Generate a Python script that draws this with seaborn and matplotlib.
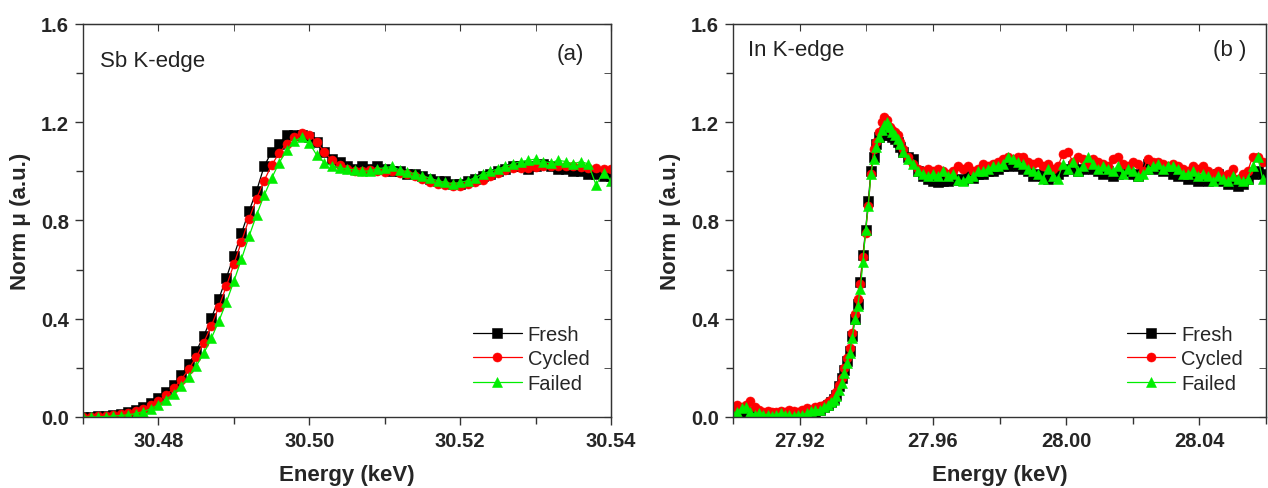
import numpy as np
import matplotlib
matplotlib.use("Agg")
import matplotlib.pyplot as plt
import seaborn as sns
from matplotlib.ticker import MultipleLocator

# ---- Sb K-edge (panel a) ----
sb_energy = [30.470, 30.471, 30.472, 30.473, 30.474, 30.475, 30.476, 30.477, 30.478, 30.479,
             30.480, 30.481, 30.482, 30.483, 30.484, 30.485, 30.486, 30.487, 30.488, 30.489,
             30.490, 30.491, 30.492, 30.493, 30.494, 30.495, 30.496, 30.497, 30.498, 30.499,
             30.500, 30.501, 30.502, 30.503, 30.504, 30.505, 30.506, 30.507, 30.508, 30.509,
             30.510, 30.511, 30.512, 30.513, 30.514, 30.515, 30.516, 30.517, 30.518, 30.519,
             30.520, 30.521, 30.522, 30.523, 30.524, 30.525, 30.526, 30.527, 30.528, 30.529,
             30.530, 30.531, 30.532, 30.533, 30.534, 30.535, 30.536, 30.537, 30.538, 30.539,
             30.540]
sb_fresh = [0.000, 0.002, 0.004, 0.006, 0.009, 0.013, 0.019, 0.028, 0.040, 0.056,
            0.076, 0.101, 0.132, 0.170, 0.215, 0.268, 0.330, 0.402, 0.481, 0.567,
            0.657, 0.748, 0.838, 0.920, 1.020, 1.080, 1.110, 1.150, 1.150, 1.150,
            1.140, 1.120, 1.080, 1.050, 1.040, 1.020, 1.010, 1.020, 1.010, 1.020,
            1.010, 1.000, 1.000, 0.990, 0.990, 0.980, 0.970, 0.960, 0.960, 0.950,
            0.950, 0.960, 0.970, 0.980, 0.990, 1.000, 1.010, 1.020, 1.020, 1.010,
            1.020, 1.030, 1.020, 1.010, 1.010, 1.000, 1.000, 0.990, 0.990, 0.980,
            0.980]
sb_cycled = [0.000, 0.001, 0.003, 0.005, 0.008, 0.011, 0.016, 0.024, 0.034, 0.048,
             0.066, 0.089, 0.117, 0.152, 0.194, 0.244, 0.303, 0.371, 0.448, 0.533,
             0.622, 0.714, 0.806, 0.889, 0.962, 1.025, 1.075, 1.112, 1.140, 1.158,
             1.150, 1.118, 1.078, 1.045, 1.025, 1.010, 1.003, 1.000, 1.005, 1.002,
             0.998, 1.000, 0.995, 0.990, 0.982, 0.970, 0.958, 0.950, 0.944, 0.940,
             0.942, 0.948, 0.955, 0.965, 0.980, 0.995, 1.005, 1.012, 1.015, 1.015,
             1.018, 1.020, 1.022, 1.020, 1.022, 1.020, 1.018, 1.015, 1.012, 1.010,
             1.008]
sb_failed = [0.000, 0.000, 0.001, 0.002, 0.004, 0.006, 0.009, 0.014, 0.022, 0.034,
             0.050, 0.070, 0.095, 0.126, 0.163, 0.207, 0.259, 0.320, 0.390, 0.468,
             0.553, 0.643, 0.735, 0.822, 0.902, 0.972, 1.035, 1.085, 1.122, 1.140,
             1.115, 1.065, 1.035, 1.022, 1.015, 1.010, 1.005, 1.000, 1.002, 1.010,
             1.015, 1.020, 1.005, 0.998, 0.990, 0.982, 0.972, 0.962, 0.955, 0.950,
             0.955, 0.962, 0.975, 0.990, 1.000, 1.010, 1.020, 1.030, 1.040, 1.045,
             1.050, 1.040, 1.035, 1.045, 1.040, 1.030, 1.040, 1.030, 0.945, 0.995,
             0.960]

# ---- In K-edge (panel b) ----
in_energy = [27.9000, 27.9013, 27.9026, 27.9039, 27.9052, 27.9065, 27.9078, 27.9091, 27.9104, 27.9117,
             27.9130, 27.9143, 27.9156, 27.9169, 27.9182, 27.9195, 27.9208, 27.9221, 27.9234, 27.9247,
             27.9260, 27.9273, 27.9286,
             27.9294, 27.9302, 27.9310, 27.9318, 27.9326, 27.9334, 27.9342, 27.9350, 27.9358, 27.9366,
             27.9374, 27.9382, 27.9390, 27.9398, 27.9406, 27.9414, 27.9422, 27.9430, 27.9438, 27.9446,
             27.9454, 27.9462, 27.9470, 27.9478, 27.9486, 27.9494, 27.9502, 27.9510,
             27.9525, 27.9540, 27.9555, 27.9570, 27.9585, 27.9600, 27.9615, 27.9630, 27.9645, 27.9660,
             27.9675, 27.9690, 27.9705, 27.9720, 27.9735, 27.9750, 27.9765, 27.9780, 27.9795, 27.9810,
             27.9825, 27.9840, 27.9855, 27.9870, 27.9885, 27.9900, 27.9915, 27.9930, 27.9945, 27.9960,
             27.9975, 27.9990, 28.0005, 28.0020, 28.0035, 28.0050, 28.0065, 28.0080, 28.0095, 28.0110,
             28.0125, 28.0140, 28.0155, 28.0170, 28.0185, 28.0200, 28.0215, 28.0230, 28.0245, 28.0260,
             28.0275, 28.0290, 28.0305, 28.0320, 28.0335, 28.0350, 28.0365, 28.0380, 28.0395, 28.0410,
             28.0425, 28.0440, 28.0455, 28.0470, 28.0485, 28.0500, 28.0515, 28.0530, 28.0545, 28.0560,
             28.0575, 28.0590]
in_fresh = [0.010, 0.020, 0.010, 0.020, 0.010, 0.000, 0.010, 0.000, 0.010, 0.000,
            0.010, 0.000, 0.010, 0.000, 0.010, 0.000, 0.010, 0.000, 0.010, 0.020,
            0.030, 0.040, 0.050,
            0.060, 0.075, 0.090, 0.125, 0.160, 0.190, 0.230, 0.270, 0.330, 0.400,
            0.460, 0.550, 0.660, 0.760, 0.880, 1.000, 1.060, 1.110, 1.140, 1.150,
            1.160, 1.160, 1.150, 1.140, 1.130, 1.120, 1.100, 1.080,
            1.060, 1.050, 1.000, 0.980, 0.970, 0.960, 0.955, 0.960, 0.960, 0.965,
            0.970, 0.965, 0.980, 0.975, 0.990, 0.990, 1.000, 1.000, 1.010, 1.020,
            1.020, 1.030, 1.020, 1.010, 1.000, 0.980, 0.990, 0.980, 0.970, 0.980,
            0.990, 1.000, 1.010, 1.020, 1.000, 1.010, 1.020, 1.010, 1.000, 0.990,
            1.000, 0.980, 0.990, 1.000, 1.000, 0.990, 0.980, 1.010, 1.030, 1.010,
            1.020, 1.000, 1.010, 0.990, 0.980, 0.990, 0.970, 0.980, 0.960, 0.970,
            0.960, 0.970, 0.990, 0.960, 0.950, 0.960, 0.940, 0.950, 0.970, 0.990,
            1.000, 0.990]
in_cycled = [0.040, 0.050, 0.040, 0.050, 0.065, 0.040, 0.030, 0.020, 0.025, 0.020,
             0.020, 0.025, 0.020, 0.030, 0.025, 0.020, 0.030, 0.035, 0.030, 0.040,
             0.045, 0.050, 0.060,
             0.070, 0.080, 0.100, 0.130, 0.160, 0.200, 0.240, 0.280, 0.340, 0.420,
             0.480, 0.540, 0.650, 0.750, 0.860, 0.990, 1.090, 1.120, 1.160, 1.200,
             1.220, 1.210, 1.180, 1.170, 1.160, 1.150, 1.120, 1.090,
             1.060, 1.030, 1.010, 1.000, 1.010, 1.000, 1.010, 1.000, 0.990, 1.000,
             1.020, 1.010, 1.020, 1.000, 1.010, 1.030, 1.020, 1.030, 1.040, 1.050,
             1.060, 1.050, 1.060, 1.060, 1.040, 1.030, 1.040, 1.020, 1.030, 1.010,
             1.020, 1.070, 1.080, 1.040, 1.060, 1.050, 1.030, 1.050, 1.040, 1.030,
             1.020, 1.050, 1.060, 1.030, 1.020, 1.040, 1.030, 1.000, 1.050, 1.040,
             1.040, 1.030, 1.020, 1.030, 1.020, 1.010, 1.000, 1.020, 1.010, 1.020,
             1.000, 0.990, 1.000, 0.980, 0.990, 1.010, 0.970, 0.990, 1.000, 1.060,
             1.060, 1.040]
in_failed = [0.010, 0.020, 0.035, 0.040, 0.020, 0.010, 0.015, 0.010, 0.010, 0.005,
             0.010, 0.015, 0.010, 0.010, 0.005, 0.010, 0.010, 0.015, 0.025, 0.030,
             0.030, 0.040, 0.050,
             0.060, 0.070, 0.085, 0.110, 0.140, 0.180, 0.220, 0.260, 0.320, 0.400,
             0.450, 0.520, 0.630, 0.760, 0.860, 0.990, 1.050, 1.100, 1.140, 1.170,
             1.190, 1.200, 1.180, 1.160, 1.150, 1.130, 1.110, 1.080,
             1.050, 1.030, 1.000, 0.990, 0.980, 0.990, 0.980, 1.000, 0.980, 0.990,
             0.965, 0.960, 0.975, 0.980, 1.000, 1.000, 1.010, 1.020, 1.020, 1.030,
             1.060, 1.050, 1.040, 1.030, 1.010, 1.000, 0.990, 0.970, 1.010, 0.980,
             0.970, 1.030, 1.010, 1.040, 1.000, 1.020, 1.060, 1.030, 1.010, 1.020,
             1.010, 1.000, 1.020, 0.990, 1.010, 1.000, 0.980, 0.990, 1.010, 1.020,
             1.030, 1.010, 1.020, 1.020, 1.010, 0.990, 0.990, 1.000, 0.980, 0.990,
             0.980, 0.960, 0.980, 0.970, 0.960, 0.980, 0.970, 0.960, 0.970, 1.020,
             1.060, 0.970]

series_names = ["Fresh", "Cycled", "Failed"]
series_colors = ["black", "#ff0000", "#00ee00"]
series_markers = ["s", "o", "^"]

sns.set_style("ticks")
plt.rcParams['font.family'] = ['Liberation Sans', 'DejaVu Sans']

fig = plt.figure(figsize=(12.68, 4.89), dpi=100)
ax_a = fig.add_axes([0.0655, 0.1452, 0.4164, 0.8037])
ax_b = fig.add_axes([0.5781, 0.1452, 0.4203, 0.8037])

panels = [
    (ax_a, sb_energy, [sb_fresh, sb_cycled, sb_failed], (30.47, 30.54), 0.02, 0.01,
     "Sb K-edge", (0.032, 0.906), "(a)", (0.922, 0.924)),
    (ax_b, in_energy, [in_fresh, in_cycled, in_failed], (27.90, 28.06), 0.04, 0.02,
     "In K-edge", (0.028, 0.936), "(b )", (0.932, 0.936)),
]

for ax, energy, ys, xlim, xmaj, xmin, edge, edge_pos, tag, tag_pos in panels:
    for name, vals, col, mk in zip(series_names, ys, series_colors, series_markers):
        sns.lineplot(x=energy, y=vals, ax=ax, color=col, marker=mk, label=name,
                     markersize=6.5 if mk != "^" else 7.5, markeredgewidth=0.4,
                     markeredgecolor=col, linewidth=0.9, estimator=None, sort=False)
    ax.set_xlim(*xlim)
    ax.set_ylim(0, 1.6)
    ax.xaxis.set_major_locator(MultipleLocator(xmaj))
    ax.xaxis.set_minor_locator(MultipleLocator(xmin))
    ax.yaxis.set_major_locator(MultipleLocator(0.4))
    ax.yaxis.set_minor_locator(MultipleLocator(0.2))
    ax.xaxis.set_major_formatter(plt.FormatStrFormatter('%.2f'))
    ax.yaxis.set_major_formatter(plt.FormatStrFormatter('%.1f'))
    ax.tick_params(which='both', direction='out', color='#333333', width=1)
    ax.tick_params(which='major', length=6, pad=4, labelsize=14.5)
    ax.tick_params(which='minor', length=5)
    for lab in ax.get_xticklabels() + ax.get_yticklabels():
        lab.set_fontweight('bold')
    for sp in ax.spines.values():
        sp.set_visible(True)
        sp.set_color('#333333')
        sp.set_linewidth(1)

    # mirrored ticks pointing inward on top and right
    top = ax.secondary_xaxis('top')
    top.xaxis.set_major_locator(MultipleLocator(xmaj))
    top.xaxis.set_minor_locator(MultipleLocator(xmin))
    top.tick_params(which='both', direction='in', length=5, color='#333333', labeltop=False)
    right = ax.secondary_yaxis('right')
    right.yaxis.set_major_locator(MultipleLocator(0.4))
    right.yaxis.set_minor_locator(MultipleLocator(0.2))
    right.tick_params(which='both', direction='in', length=5, color='#333333', labelright=False)

    ax.set_xlabel("Energy (keV)", fontsize=16, fontweight='bold', labelpad=10)
    ax.set_ylabel("Norm μ (a.u.)", fontsize=16, fontweight='bold', labelpad=7)
    ax.text(edge_pos[0], edge_pos[1], edge, transform=ax.transAxes, fontsize=16,
            ha='left', va='center', color='#222222')
    ax.text(tag_pos[0], tag_pos[1], tag, transform=ax.transAxes, fontsize=16,
            ha='center', va='center', color='#222222')
    ax.legend(loc='upper left', bbox_to_anchor=(0.739, 0.235), frameon=False,
              fontsize=14.5, handlelength=2.4, handletextpad=0.3, labelspacing=0.28,
              borderpad=0, borderaxespad=0)

fig.savefig("out.png", dpi=100)
